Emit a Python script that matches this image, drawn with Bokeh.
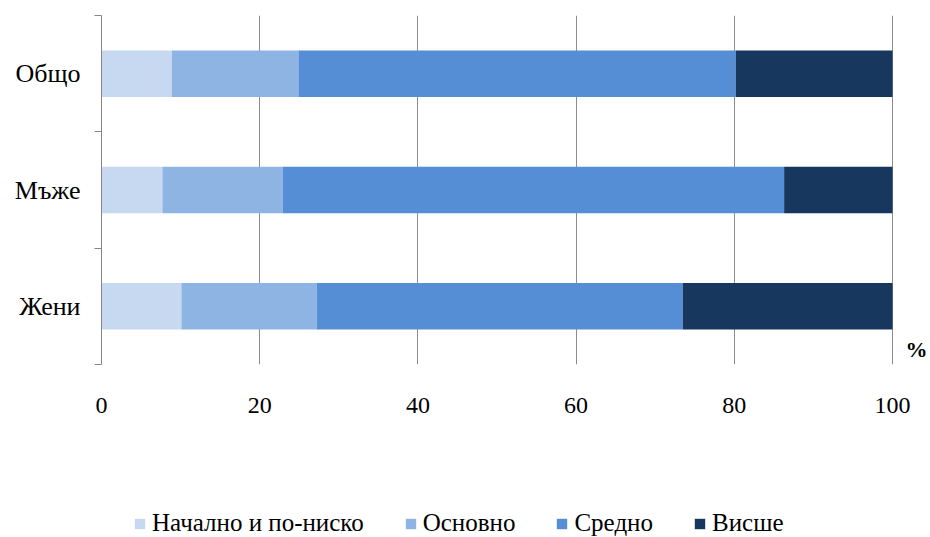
from bokeh.plotting import figure
from bokeh.layouts import column
from bokeh.models import ColumnDataSource, Range1d, FixedTicker, Legend, LegendItem, Label
from bokeh.embed import file_html
from bokeh.resources import INLINE

categories = ["Общо", "Мъже", "Жени"]
series = ["Начално и по-ниско", "Основно", "Средно", "Висше"]
primary = [8.9, 7.7, 10.1]
basic = [16.0, 15.2, 17.1]
secondary = [55.3, 63.4, 46.3]
higher = [19.8, 13.7, 26.5]
x_ticks = [0, 20, 40, 60, 80, 100]
colors = ["#c6d9f1", "#8eb4e3", "#558ed5", "#17375e"]

n = len(categories)
ypos = [n - i - 0.5 for i in range(n)]
keys = ["s0", "s1", "s2", "s3"]
source = ColumnDataSource(dict(y=ypos, s0=primary, s1=basic, s2=secondary, s3=higher))

FONT = "Liberation Serif"
W = 928

# main chart: frame 101..928 px wide (100 units = 791 px), so the "%" sign fits inside
p = figure(width=W, height=455, x_range=Range1d(0, 100 * 827 / 791), y_range=Range1d(0, n),
           output_backend="svg", toolbar_location=None,
           min_border_left=101, min_border_right=0, min_border_top=15, min_border_bottom=91)
p.outline_line_color = None
p.background_fill_color = "white"
p.border_fill_color = "white"

p.hbar_stack(keys, y="y", height=0.4, color=colors, line_color=None, source=source)

xa = p.xaxis[0]
xa.ticker = FixedTicker(ticks=x_ticks)
xa.axis_line_color = None
xa.major_tick_line_color = None
xa.major_tick_out = 0
xa.major_tick_in = 0
xa.minor_tick_line_color = None
xa.major_label_standoff = 33
xa.major_label_text_font = FONT
xa.major_label_text_font_size = "24px"
xa.major_label_text_color = "#000000"

ya = p.yaxis[0]
ya.ticker = FixedTicker(ticks=ypos, minor_ticks=[float(i) for i in range(n + 1)])
ya.major_label_overrides = {y: c for y, c in zip(ypos, categories)}
ya.major_tick_line_color = None
ya.major_tick_out = 0
ya.major_tick_in = 0
ya.minor_tick_out = 7
ya.minor_tick_in = 0
ya.minor_tick_line_color = "#868686"
ya.axis_line_color = "#868686"
ya.major_label_standoff = 14
ya.major_label_text_font = FONT
ya.major_label_text_font_size = "26px"
ya.major_label_text_color = "#000000"

p.xgrid.ticker = FixedTicker(ticks=x_ticks[1:])
p.xgrid.grid_line_color = "#8c8c8c"
p.ygrid.grid_line_color = None

pct = Label(x=100, y=0, x_offset=13, y_offset=3, text="%", text_font=FONT,
            text_font_style="bold", text_font_size="22px", text_color="#000000")
p.add_layout(pct)

# legend strip: hidden copy of the series, only its legend is shown
lf = figure(width=W, height=82, x_range=Range1d(0, 100), y_range=Range1d(0, n),
            output_backend="svg", toolbar_location=None,
            x_axis_location=None, y_axis_location=None,
            min_border_left=0, min_border_right=0, min_border_top=0, min_border_bottom=0)
lf.outline_line_color = None
lf.grid.grid_line_color = None
lf.background_fill_color = "white"
lf.border_fill_color = "white"
lrs = lf.hbar_stack(keys, y="y", height=0.4, color=colors, line_color=None, source=source)
for r in lrs:
    r.visible = False

# the column aligns this frame with the chart frame (left edge at 101 px)
legend = Legend(items=[LegendItem(label=s, renderers=[r]) for s, r in zip(series, lrs)],
                orientation="horizontal", location=(32, 0),
                label_text_font=FONT, label_text_font_size="25px", label_text_color="#000000",
                glyph_width=13, glyph_height=13, label_standoff=6, spacing=40,
                padding=0, margin=0, border_line_color=None, background_fill_alpha=0,
                inactive_fill_alpha=0)
lf.add_layout(legend, "center")

layout = column(p, lf, spacing=0)
open("out.html", "w").write(file_html(layout, INLINE))
